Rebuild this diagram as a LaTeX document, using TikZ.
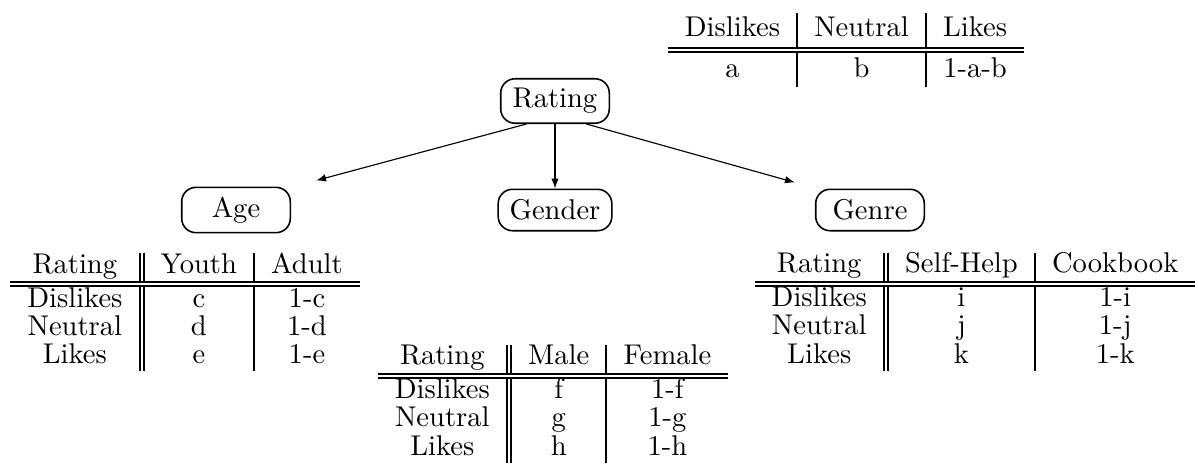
\documentclass[tikz,border=0pt]{standalone}
\usetikzlibrary{arrows.meta,calc}
\setlength{\arrayrulewidth}{0.7pt}
\setlength{\doublerulesep}{1.4pt}
\tikzset{
  var/.style={draw, rounded corners=5pt, minimum width=38pt, minimum height=14.5pt, inner xsep=4pt, line width=0.55pt},
  tbl/.style={inner sep=0pt},
  arr/.style={-{Latex[length=3.5pt,width=2.6pt]}, line width=0.4pt}
}
\newcommand{\tightrows}{\renewcommand{\arraystretch}{0.8}}
\begin{document}
\begin{tikzpicture}[x=0.35pt,y=-0.35pt]
\useasboundingbox (0,0) rectangle (1198,469);
% prior table
\node[tbl] (prior) at (846,50) {\begin{tabular}{c|c|c}
Dislikes & Neutral & Likes\\\hline\hline
a & b & 1-a-b
\end{tabular}};
% variable nodes
\node[var] (Rating) at (555,101) {Rating};
\node[var] (Age) at (236,210) {Age};
\node[var] (Gender) at (555,210) {Gender};
\node[var] (Genre) at (870,210) {Genre};
% arrow ends
\coordinate (ageTip) at ($(Age.north east)+(25,-6)$);
\coordinate (genreTip) at ($(Genre.north west)+(-20,-6)$);
\draw[arr] ([xshift=-10pt]Rating.south) -- (ageTip);
\draw[arr] (Rating.south) -- (Gender.north);
\draw[arr] ([xshift=11pt]Rating.south) -- (genreTip);
% conditional tables
\node[tbl] (ageTab) at (185,312) {\tightrows\begin{tabular}{c||c|c}
Rating & Youth & Adult\\\hline\hline
Dislikes & c & 1-c\\
Neutral & d & 1-d\\
Likes & e & 1-e
\end{tabular}};
\node[tbl] (genderTab) at (553,404) {\tightrows\begin{tabular}{c||c|c}
Rating & Male & Female\\\hline\hline
Dislikes & f & 1-f\\
Neutral & g & 1-g\\
Likes & h & 1-h
\end{tabular}};
\node[tbl] (genreTab) at (975,312) {\tightrows\begin{tabular}{c||c|c}
Rating & Self-Help & Cookbook\\\hline\hline
Dislikes & i & 1-i\\
Neutral & j & 1-j\\
Likes & k & 1-k
\end{tabular}};
\end{tikzpicture}
\end{document}
